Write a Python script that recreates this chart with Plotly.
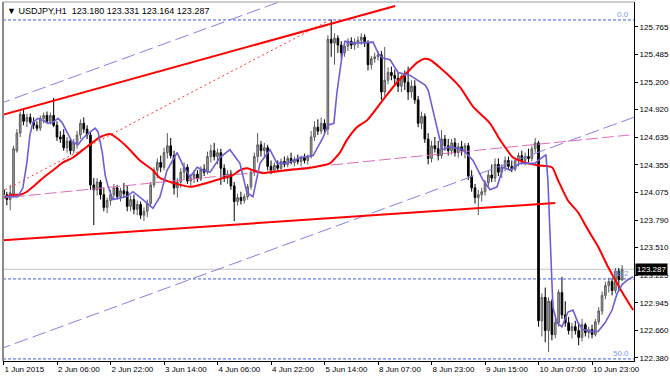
import plotly.graph_objects as go

# ---------------- data (USDJPY, H1) ----------------
opens = [124.10,124.05,124.00,124.05,124.50,124.68,124.87,124.80,124.84,124.79,
         124.76,124.73,124.83,124.86,124.80,124.86,124.76,124.64,124.66,124.53,
         124.60,124.50,124.58,124.66,124.78,124.72,124.66,124.15,124.10,124.18,
         124.05,123.92,123.99,124.05,124.12,124.03,124.09,124.08,123.93,124.00,
         123.90,123.95,123.84,123.88,123.96,124.15,124.30,124.38,124.33,124.48,
         124.55,124.45,124.12,124.18,124.28,124.33,124.19,124.22,124.26,124.21,
         124.31,124.28,124.44,124.50,124.44,124.48,124.32,124.22,124.26,124.14,
         123.98,124.02,123.99,124.03,124.13,124.28,124.44,124.56,124.50,124.53,
         124.34,124.30,124.35,124.32,124.39,124.36,124.42,124.38,124.41,124.39,
         124.43,124.40,124.44,124.64,124.74,124.70,124.78,124.72,125.64,125.60,
         125.65,125.58,125.50,125.57,125.62,125.58,125.61,125.63,125.66,125.60,
         125.38,125.44,125.46,125.48,125.10,125.22,125.30,125.27,125.24,125.16,
         125.26,125.20,125.10,125.16,125.02,124.78,124.85,124.62,124.42,124.55,
         124.52,124.45,124.62,124.55,124.50,124.58,124.48,124.54,124.50,124.55,
         124.24,124.12,124.02,124.05,124.08,124.17,124.25,124.22,124.36,124.28,
         124.33,124.40,124.34,124.31,124.40,124.45,124.40,124.44,124.42,124.52,
         124.58,122.76,123.00,122.66,122.96,122.62,122.74,123.05,122.82,122.74,
         122.66,122.70,122.66,122.59,122.72,122.64,122.67,122.62,122.75,122.86,
         123.02,123.12,123.16,123.07,123.27,123.180]
highs = [124.16,124.08,124.15,124.55,124.72,124.90,124.93,124.88,124.88,124.84,
         124.80,124.86,124.89,124.90,124.89,125.04,124.80,124.70,124.72,124.64,
         124.63,124.62,124.70,124.82,124.84,124.76,124.70,124.22,124.22,124.20,
         124.12,124.02,124.10,124.16,124.15,124.12,124.17,124.14,124.04,124.05,
         123.99,123.98,123.92,124.00,124.18,124.33,124.42,124.45,124.53,124.68,
         124.63,124.50,124.22,124.32,124.38,124.36,124.26,124.30,124.30,124.34,
         124.36,124.49,124.56,124.58,124.52,124.52,124.36,124.30,124.30,124.18,
         124.06,124.08,124.06,124.16,124.32,124.48,124.68,124.60,124.58,124.56,
         124.40,124.38,124.40,124.42,124.44,124.45,124.48,124.44,124.46,124.45,
         124.47,124.46,124.70,124.80,124.82,124.84,124.82,125.68,125.84,125.70,
         125.68,125.62,125.60,125.65,125.66,125.65,125.67,125.70,125.69,125.63,
         125.47,125.50,125.52,125.52,125.56,125.35,125.36,125.33,125.30,125.28,
         125.32,125.36,125.22,125.22,125.06,124.90,124.88,124.68,124.60,124.64,
         124.60,124.71,124.66,124.62,124.62,124.63,124.58,124.60,124.58,124.58,
         124.30,124.16,124.10,124.12,124.20,124.30,124.36,124.42,124.42,124.36,
         124.44,124.44,124.40,124.43,124.48,124.50,124.48,124.52,124.55,124.63,
         124.60,123.04,123.10,123.00,122.98,122.78,123.08,123.21,122.96,122.80,
         122.74,122.76,122.74,122.78,122.74,122.70,122.72,122.78,122.90,123.06,
         123.16,123.20,123.20,123.30,123.30,123.331]
lows = [123.98,123.94,123.89,124.02,124.48,124.64,124.76,124.74,124.77,124.72,
        124.70,124.70,124.78,124.78,124.77,124.74,124.60,124.58,124.50,124.48,
        124.46,124.47,124.52,124.62,124.68,124.62,124.10,123.74,124.04,124.00,
        123.88,123.86,123.94,124.00,124.00,123.98,124.02,123.88,123.88,123.85,
        123.84,123.80,123.78,123.82,123.93,124.12,124.22,124.28,124.30,124.42,
        124.42,124.05,124.02,124.12,124.20,124.16,124.14,124.17,124.18,124.19,
        124.24,124.26,124.38,124.40,124.36,124.15,124.18,124.16,124.10,123.78,
        123.94,123.95,123.96,124.00,124.10,124.24,124.38,124.44,124.43,124.30,
        124.26,124.27,124.29,124.30,124.33,124.33,124.36,124.34,124.36,124.34,
        124.37,124.36,124.42,124.60,124.66,124.67,124.68,124.66,125.46,125.38,
        125.50,125.44,125.46,125.52,125.54,125.53,125.55,125.58,125.56,125.32,
        125.33,125.40,125.42,125.02,125.06,125.18,125.22,125.18,125.10,125.10,
        125.12,125.02,125.04,124.98,124.74,124.72,124.58,124.36,124.38,124.48,
        124.40,124.42,124.50,124.45,124.46,124.44,124.43,124.45,124.42,124.20,
        124.08,123.96,123.84,123.98,124.04,124.12,124.18,124.18,124.24,124.22,
        124.29,124.30,124.28,124.29,124.34,124.36,124.35,124.38,124.39,124.48,
        122.70,122.60,122.54,122.44,122.56,122.58,122.70,122.78,122.70,122.62,
        122.58,122.62,122.51,122.55,122.60,122.58,122.58,122.60,122.72,122.82,
        122.98,123.05,123.02,123.04,123.06,123.164]
closes = [124.05,124.00,124.07,124.52,124.68,124.87,124.80,124.84,124.79,124.76,
          124.73,124.83,124.86,124.80,124.86,124.76,124.64,124.62,124.53,124.60,
          124.50,124.58,124.66,124.78,124.72,124.66,124.15,124.10,124.18,124.05,
          123.92,123.99,124.05,124.12,124.03,124.09,124.06,123.93,124.00,123.90,
          123.95,123.84,123.88,123.96,124.15,124.30,124.38,124.33,124.48,124.55,
          124.45,124.12,124.18,124.28,124.33,124.19,124.22,124.26,124.21,124.31,
          124.28,124.44,124.50,124.44,124.48,124.32,124.22,124.26,124.14,123.98,
          124.02,123.99,124.03,124.13,124.28,124.44,124.56,124.50,124.53,124.34,
          124.30,124.35,124.32,124.39,124.36,124.42,124.38,124.41,124.39,124.43,
          124.40,124.44,124.64,124.74,124.70,124.78,124.72,125.64,125.60,125.65,
          125.58,125.50,125.57,125.62,125.58,125.61,125.63,125.66,125.60,125.38,
          125.44,125.46,125.48,125.10,125.22,125.30,125.27,125.24,125.16,125.26,
          125.20,125.10,125.16,125.02,124.78,124.85,124.62,124.42,124.55,124.52,
          124.45,124.62,124.55,124.50,124.58,124.48,124.54,124.50,124.55,124.24,
          124.12,124.02,124.05,124.08,124.17,124.25,124.22,124.36,124.28,124.33,
          124.40,124.34,124.31,124.40,124.45,124.40,124.44,124.42,124.52,124.58,
          122.76,123.00,122.66,122.96,122.62,122.74,123.05,122.82,122.74,122.66,
          122.70,122.66,122.59,122.72,122.64,122.67,122.62,122.75,122.86,123.02,
          123.12,123.16,123.07,123.27,123.18,123.287]

x_tick_labels = ["1 Jun 2015", "2 Jun 06:00", "2 Jun 22:00", "3 Jun 14:00",
                 "4 Jun 06:00", "4 Jun 22:00", "5 Jun 14:00", "8 Jun 07:00",
                 "8 Jun 23:00", "9 Jun 15:00", "10 Jun 07:00", "10 Jun 23:00"]
bars_per_label = 16
y_tick_labels = ["125.765", "125.485", "125.200", "124.920", "124.635", "124.355",
                 "124.075", "123.790", "123.510", "123.225", "122.945", "122.660",
                 "122.380"]

# slow moving average (red), sampled (bar index, price)
slow_ma_bar = [0, 2.8, 4.9, 7, 8.8, 11.8, 14.8, 17.8, 20.8, 23.8, 26.5, 28.9, 31.8,
               33.9, 36.9, 40.8, 44.7, 46.8, 49.8, 52.8, 55.8, 58.8, 61.8, 64.7,
               68.6, 70.7, 72.8, 74.6, 77.6, 79.7, 84.8, 90.8, 95.5, 97.6, 100.6,
               102.7, 105.7, 108.7, 113.5, 117.7, 120.7, 123.7, 126.0, 127.5, 130.5,
               136.5, 140.4, 145.5, 148.5, 152.4, 155.9, 159.8, 164, 165.8, 168.8,
               171.8, 174.8, 177.8, 180.8, 182.9, 185.9, 188.3]
slow_ma_val = [124.02, 124.05, 124.05, 124.08, 124.13, 124.22, 124.30, 124.38, 124.43,
               124.51, 124.58, 124.64, 124.67, 124.63, 124.54, 124.40, 124.30, 124.22,
               124.18, 124.15, 124.13, 124.15, 124.18, 124.21, 124.25, 124.30, 124.32,
               124.30, 124.27, 124.28, 124.30, 124.32, 124.35, 124.37, 124.48, 124.61,
               124.74, 124.81, 125.02, 125.20, 125.30, 125.40, 125.44, 125.43, 125.35,
               125.15, 124.95, 124.78, 124.61, 124.43, 124.38, 124.35, 124.33, 124.20,
               123.99, 123.87, 123.69, 123.52, 123.31, 123.18, 123.00, 122.87]

# fast moving average (slate blue), sampled (bar index, price)
fast_ma_bar = [0, 1.9, 4.3, 5.8, 7.0, 7.9, 8.8, 10.3, 11.8, 13.3, 14.8, 16.3, 17.5,
               19, 20.5, 22.3, 23.8, 25.9, 27.4, 28.3, 29.5, 30.4, 31.3, 32.7, 36.9,
               38.7, 41.7, 44.7, 46.8, 48.9, 51.9, 53.7, 55.8, 57.9, 59.7, 61.8, 64.7,
               67.7, 70.7, 72.8, 74.6, 76.7, 79.7, 81.8, 84.8, 88.7, 92.6, 95.5, 97.0,
               98.8, 99.7, 101.2, 102.1, 104.5, 108.1, 110.5, 112, 113.2, 115.6, 118,
               121.6, 123.7, 126.1, 127, 128.4, 129.6, 131.2, 133.5, 137.4, 140.4,
               143.4, 145.5, 147.6, 149.4, 151.5, 154.4, 158.9, 161, 162.2, 162.8,
               163.7, 164.3, 165.5, 167, 168.8, 170.3, 171.8, 173.3, 176, 177.8, 179.9,
               182, 183.5, 185, 186.7, 188.3]
fast_ma_val = [124.03, 124.03, 124.03, 124.12, 124.38, 124.66, 124.79, 124.83, 124.81,
               124.78, 124.79, 124.83, 124.79, 124.69, 124.59, 124.56, 124.63, 124.69,
               124.73, 124.69, 124.49, 124.25, 124.13, 124.00, 124.03, 124.08, 124.00,
               123.91, 124.03, 124.30, 124.48, 124.35, 124.23, 124.33, 124.30, 124.28,
               124.43, 124.51, 124.37, 124.07, 124.03, 124.37, 124.51, 124.37, 124.37,
               124.43, 124.45, 124.63, 124.76, 124.78, 125.09, 125.46, 125.62, 125.60,
               125.61, 125.61, 125.50, 125.45, 125.43, 125.30, 125.27, 125.22, 125.17,
               125.12, 124.92, 124.72, 124.51, 124.54, 124.51, 124.40, 124.20, 124.10,
               124.13, 124.33, 124.30, 124.37, 124.37, 124.43, 124.46, 124.20, 123.35,
               122.90, 122.74, 122.70, 122.85, 122.87, 122.74, 122.67, 122.65, 122.65,
               122.74, 122.87, 123.04, 123.13, 123.18, 123.21]

# chart objects: (bar index, price) anchors
red_upper_line = [(-2, 124.85), (117.1, 125.98)]
red_lower_line = [(-2, 123.58), (165.0, 123.965)]
red_dotted_line = [(0.5, 124.10), (97.8, 125.84)]
channel_upper = [(-2, 124.97), (88, 126.09)]
channel_lower = [(-2, 122.46), (190, 124.86)]
pink_line = [(-2, 124.01), (190, 124.67)]

fib_0_price = 125.837
fib_100_price = 118.903
fib_levels = [0.0, 38.2, 50.0]

FONT = "Liberation Sans"

# ---------------- figure ----------------
bars = list(range(len(closes)))
fig = go.Figure()

def add_line(pts, color, width, dash):
    fig.add_trace(go.Scatter(x=[p[0] for p in pts], y=[p[1] for p in pts],
                             mode="lines", line=dict(color=color, width=width, dash=dash),
                             hoverinfo="skip", showlegend=False))

add_line(channel_upper, "#8a80e6", 1, "14px,5px")
add_line(channel_lower, "#8a80e6", 1, "14px,5px")
add_line(pink_line, "#dc6cbc", 1, "12px,4px")
add_line(red_dotted_line, "#ff3030", 1, "2px,3px")

fig.add_trace(go.Candlestick(
    x=bars, open=opens, high=highs, low=lows, close=closes,
    increasing=dict(line=dict(color="#5a5a5a", width=1), fillcolor="#a8a8a8"),
    decreasing=dict(line=dict(color="#000000", width=1), fillcolor="#000000"),
    whiskerwidth=0, showlegend=False, hoverinfo="skip"))

fig.add_trace(go.Scatter(x=slow_ma_bar, y=slow_ma_val, mode="lines",
                         line=dict(color="#ff0000", width=2, shape="spline", smoothing=0.6),
                         hoverinfo="skip", showlegend=False))
fig.add_trace(go.Scatter(x=fast_ma_bar, y=fast_ma_val, mode="lines",
                         line=dict(color="#6b5fd6", width=1.6),
                         hoverinfo="skip", showlegend=False))

add_line(red_upper_line, "#ff0000", 2, "solid")
add_line(red_lower_line, "#ff0000", 2, "solid")

shapes = []
annotations = []
span = fib_0_price - fib_100_price
for lvl in fib_levels:
    price = fib_0_price - lvl / 100.0 * span
    shapes.append(dict(type="line", xref="paper", yref="y", x0=0, x1=1, y0=price, y1=price,
                       line=dict(color="#3f5fe8", width=1, dash="3px,2px"), layer="below"))
    annotations.append(dict(xref="paper", yref="y", x=0.995, y=price, text="%.1f" % lvl,
                            showarrow=False, xanchor="right", yanchor="bottom", yshift=-1,
                            font=dict(family=FONT, size=8, color="#7a98ee")))

last = closes[-1]
shapes.append(dict(type="line", xref="paper", yref="y", x0=0, x1=1, y0=last, y1=last,
                   line=dict(color="#c4c4c4", width=1), layer="below"))
# top and left frame
shapes.append(dict(type="line", xref="paper", yref="paper", x0=0, x1=1, y0=1, y1=1,
                   line=dict(color="#9a9a9a", width=1)))
shapes.append(dict(type="line", xref="paper", yref="paper", x0=0, x1=0, y0=0, y1=1,
                   line=dict(color="#8a8a8a", width=2)))

annotations.append(dict(xref="paper", yref="y", x=1, y=last, xanchor="left", xshift=1,
                        text="%.3f" % last, showarrow=False, bgcolor="#000000",
                        borderpad=1, font=dict(family=FONT, size=8, color="#ffffff")))
title = "\u25BC USDJPY,H1\u00a0\u00a0%.3f %.3f %.3f %.3f" % (opens[-1], highs[-1], lows[-1], closes[-1])
annotations.append(dict(xref="paper", yref="paper", x=0, y=1, xanchor="left", yanchor="top",
                        xshift=2, yshift=-2, text=title, showarrow=False,
                        font=dict(family=FONT, size=9, color="#000000")))

fig.update_layout(
    width=670, height=376,
    margin=dict(l=3, r=36, t=2, b=15),
    paper_bgcolor="#ffffff", plot_bgcolor="#ffffff",
    showlegend=False, shapes=shapes, annotations=annotations,
    xaxis=dict(range=[-0.15, 188.55], tickvals=[k * bars_per_label for k in range(len(x_tick_labels))],
               ticktext=x_tick_labels, ticks="outside", ticklen=3, tickcolor="#000000",
               tickangle=0, automargin=False,
               showline=True, linecolor="#000000", linewidth=1, showgrid=False, zeroline=False,
               ticklabelposition="outside right", rangeslider=dict(visible=False),
               tickfont=dict(family=FONT, size=8, color="#000000")),
    yaxis=dict(side="right", range=[122.349, 126.0205], automargin=False,
               tickvals=[float(t) for t in y_tick_labels], ticktext=y_tick_labels,
               ticks="outside", ticklen=3, tickcolor="#000000",
               showline=True, linecolor="#000000", linewidth=1, showgrid=False, zeroline=False,
               tickfont=dict(family=FONT, size=8, color="#000000")),
)

fig.write_html("out.html", config={"displayModeBar": False},
               post_script="document.body.style.margin='0';document.body.style.overflow='hidden';")
